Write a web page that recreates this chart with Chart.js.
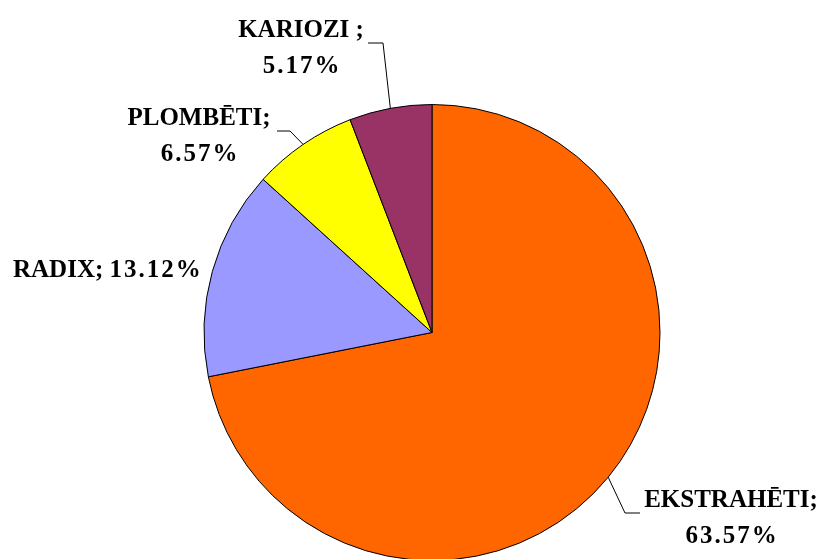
<!DOCTYPE html>
<html>
<head>
<meta charset="utf-8">
<script src="https://cdn.jsdelivr.net/npm/chart.js@4"></script>
<style>
  html, body { margin: 0; padding: 0; background: #fff; overflow: hidden; }
  #wrap { width: 823px; height: 559px; overflow: hidden; position: relative; }
  canvas { display: block; }
</style>
</head>
<body>
<div id="wrap"><canvas id="pie" width="823" height="600"></canvas></div>
<script>
/* ── Data ───────────────────────────────────────────────────── */
var categories = ['EKSTRAHĒTI', 'RADIX', 'PLOMBĒTI', 'KARIOZI'];
var values     = [63.57, 13.12, 6.57, 5.17];
var valueText  = ['63.57%', '13.12%', '6.57%', '5.17%'];
var colors     = ['#FF6600', '#9999FF', '#FFFF00', '#993366'];

var LABEL_FONT = 'bold 25px "Liberation Serif"';

/* ── Label layout (per slice) ───────────────────────────────── */
// name/value are drawn centred at x (or inline from left when inline=true)
var labelLayout = [
    { x: 731, y: 507, name: categories[0] + ';',  leader: [[625, 513], [640, 513]] },
    { x: 13,  y: 277, name: categories[1] + '; ', inline: true, leader: null },
    { x: 199, y: 125, name: categories[2] + ';',  leader: [[290, 131], [277, 131]] },
    { x: 301, y: 37,  name: categories[3] + ' ;', leader: [[383, 43], [368, 43]] }
];

var labelPlugin = {
    id: 'pieLabels',
    afterDraw: function (chart) {
        var ctx  = chart.ctx;
        var meta = chart.getDatasetMeta(0);
        ctx.save();
        ctx.strokeStyle = '#000';
        ctx.lineWidth = 1;
        ctx.fillStyle = '#000';
        ctx.font = LABEL_FONT + ', "Times New Roman", serif';
        ctx.textBaseline = 'alphabetic';
        meta.data.forEach(function (arc, i) {
            var lay = labelLayout[i];
            if (lay.leader) {
                var mid = (arc.startAngle + arc.endAngle) / 2;
                ctx.beginPath();
                ctx.moveTo(arc.x + Math.cos(mid) * arc.outerRadius,
                           arc.y + Math.sin(mid) * arc.outerRadius);
                lay.leader.forEach(function (p) { ctx.lineTo(p[0], p[1]); });
                ctx.stroke();
            }
            if (lay.inline) {
                ctx.textAlign = 'left';
                ctx.letterSpacing = '0px';
                ctx.fillText(lay.name, lay.x, lay.y);
                var w = ctx.measureText(lay.name).width;
                ctx.letterSpacing = '2px';
                ctx.fillText(valueText[i], lay.x + w, lay.y);
            } else {
                ctx.textAlign = 'center';
                ctx.letterSpacing = '0px';
                ctx.fillText(lay.name, lay.x, lay.y);
                ctx.letterSpacing = '2px';
                ctx.fillText(valueText[i], lay.x + 1, lay.y + 36);
            }
        });
        ctx.restore();
    }
};

function draw() {
    new Chart(document.getElementById('pie'), {
        type: 'pie',
        data: {
            labels: categories,
            datasets: [{
                data: values,
                backgroundColor: colors,
                borderColor: '#000',
                borderWidth: 1,
                hoverOffset: 0
            }]
        },
        options: {
            responsive: false,
            animation: false,
            layout: { padding: { left: 203.5, right: 162.5, top: 104, bottom: 39 } },
            plugins: {
                legend: { display: false },
                tooltip: { enabled: false }
            }
        },
        plugins: [labelPlugin]
    });
}

if (document.fonts && document.fonts.load) {
    document.fonts.load(LABEL_FONT, 'KARIOZI').then(draw, draw);
} else {
    draw();
}
</script>
</body>
</html>
